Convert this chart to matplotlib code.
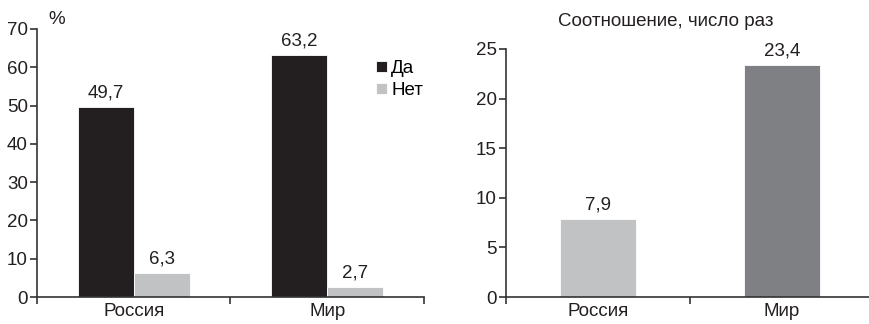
import matplotlib.pyplot as plt
import numpy as np

# data
categories = ['Россия', 'Мир']
yes_vals = [49.7, 63.2]
no_vals = [6.3, 2.7]
ratio_vals = [7.9, 23.4]
series_names = ['Да', 'Нет']

c_yes = '#231f20'
c_no = '#c1c2c4'
c_world = '#7f8083'
axis_col = '#333333'
fs = 13.5

plt.rcParams['font.family'] = ['Liberation Sans', 'DejaVu Sans']
plt.rcParams['font.size'] = fs

fig = plt.figure(figsize=(8.7, 3.24), dpi=100)
ax1 = fig.add_axes([0.0425, 0.0833, 0.4448, 0.8272])
ax2 = fig.add_axes([0.5816, 0.0833, 0.4230, 0.7655])


def style_axis(ax):
    for s in ['top', 'right']:
        ax.spines[s].set_visible(False)
    for s in ['left', 'bottom']:
        ax.spines[s].set_color(axis_col)
        ax.spines[s].set_linewidth(1.2)
    ax.tick_params(axis='y', direction='out', length=5, width=1.2,
                   color=axis_col, labelsize=fs, labelcolor='#231f20', pad=1.5)
    ax.tick_params(axis='x', which='major', length=0, labelsize=fs,
                   labelcolor='#231f20', pad=4)
    ax.tick_params(axis='x', which='minor', direction='out', length=5,
                   width=1.2, color=axis_col)


def label_bars(ax, bars, vals):
    for r, v in zip(bars, vals):
        ax.annotate(f'{v:.1f}'.replace('.', ','),
                    (r.get_x() + r.get_width() / 2, v), xytext=(0, 4),
                    textcoords='offset points', ha='center', va='bottom',
                    fontsize=fs, color='#231f20')


# left chart: Да / Нет
x = np.arange(len(categories))
w = 0.29
b1 = ax1.bar(x - w / 2, yes_vals, w, color=c_yes, edgecolor='white',
             linewidth=0.6, label=series_names[0])
b2 = ax1.bar(x + w / 2, no_vals, w, color=c_no, edgecolor='white',
             linewidth=0.6, label=series_names[1])
label_bars(ax1, b1, yes_vals)
label_bars(ax1, b2, no_vals)
ax1.set_xlim(-0.5, 1.5)
ax1.set_ylim(0, 70)
ax1.set_yticks(range(0, 71, 10))
ax1.set_xticks(x)
ax1.set_xticklabels(categories)
ax1.set_xticks([-0.5, 0.5, 1.5], minor=True)
style_axis(ax1)
fig.text(57 / 870, 1 - 19 / 324, '%', ha='center', va='center',
         fontsize=fs, color='#231f20')
ax1.legend(loc='upper left', bbox_to_anchor=(0.877, 0.885), frameon=False,
           handlelength=0.55, handleheight=0.55, handletextpad=0.25,
           labelspacing=0.3, borderaxespad=0, borderpad=0, fontsize=fs)

# right chart: ratio
b3 = ax2.bar(x, ratio_vals, 0.41, color=[c_no, c_world], edgecolor='white',
             linewidth=0.6)
label_bars(ax2, b3, ratio_vals)
ax2.set_xlim(-0.5, 1.5)
ax2.set_ylim(0, 25)
ax2.set_yticks(range(0, 26, 5))
ax2.set_xticks(x)
ax2.set_xticklabels(categories)
ax2.set_xticks([-0.5, 0.5, 1.5], minor=True)
style_axis(ax2)
fig.text(666 / 870, 1 - 22 / 324, 'Соотношение, число раз', ha='center',
         va='center', fontsize=fs, color='#231f20')

fig.savefig('out.png', dpi=100)
